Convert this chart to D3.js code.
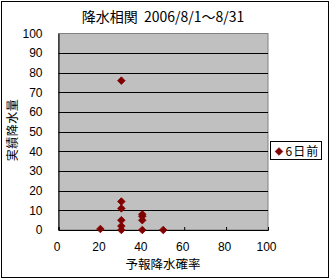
<!DOCTYPE html>
<html>
<head>
<meta charset="utf-8">
<script src="https://cdn.jsdelivr.net/npm/d3@7"></script>
<style>
  body { margin: 0; background: #fff; }
  svg text { font-family: "Liberation Sans", "Noto Sans CJK JP", sans-serif; fill: #000; }
  .jp { font-family: "Noto Sans CJK JP", sans-serif; white-space: pre; }
</style>
</head>
<body>
<svg id="chart" width="330" height="279"></svg>
<script>
// forecast probability (%) vs. actual rainfall (mm)
const forecastPct = [20, 30, 30, 30, 30, 30, 30, 40, 40, 40, 40, 50];
const actualRain  = [0.5, 76, 14.5, 11, 5, 2, 0, 8, 7, 5, 0, 0];
const xTicks = [0, 20, 40, 60, 80, 100];
const yTicks = [0, 10, 20, 30, 40, 50, 60, 70, 80, 90, 100];
const seriesName = "6日前";
const titleText = "降水相関  2006/8/1～8/31";
const xTitle = "予報降水確率";
const yTitle = "実績降水量";

const svg = d3.select("#chart");
const plot = {left: 58.5, right: 268, top: 33.5, bottom: 230};
const markColor = "#800000";

// outer frame
svg.append("rect")
   .attr("x", 1.5).attr("y", 1.5)
   .attr("width", 327).attr("height", 276)
   .attr("fill", "#fff").attr("stroke", "#000");

const x = d3.scaleLinear().domain([0, 100]).range([plot.left, plot.right]);
const y = d3.scaleLinear().domain([0, 100]).range([plot.bottom, plot.top]);

// plot area
svg.append("rect")
   .attr("x", plot.left).attr("y", plot.top)
   .attr("width", plot.right - plot.left).attr("height", plot.bottom - plot.top)
   .attr("fill", "#c0c0c0").attr("stroke", "#808080");

// gridlines
svg.append("g")
   .selectAll("line")
   .data(yTicks.filter(d => d > 0 && d < 100))
   .join("line")
   .attr("x1", plot.left).attr("x2", plot.right)
   .attr("y1", d => Math.round(y(d)) + 0.5).attr("y2", d => Math.round(y(d)) + 0.5)
   .attr("stroke", "#000");

// y axis
const yAxis = svg.append("g")
   .attr("transform", `translate(${plot.left},0)`)
   .call(d3.axisLeft(y).tickValues(yTicks).tickSize(0).tickPadding(16));
yAxis.select(".domain").attr("stroke", "#000");
yAxis.selectAll("text").attr("font-size", 12).attr("font-family", null);

// x axis
const xAxis = svg.append("g")
   .attr("transform", `translate(0,${plot.bottom})`)
   .call(d3.axisBottom(x).tickValues(xTicks).tickSize(-3).tickPadding(12));
xAxis.select(".domain").attr("stroke", "#000");
xAxis.selectAll(".tick line").attr("stroke", "#000");
xAxis.selectAll("text").attr("font-size", 12).attr("font-family", null)
   .attr("dx", -2);

// points
const diamond = "M0,-3.8L3.8,0L0,3.8L-3.8,0Z";
svg.append("g")
   .selectAll("path")
   .data(forecastPct.map((p, i) => ({p: p, r: actualRain[i]})))
   .join("path")
   .attr("d", diamond)
   .attr("transform", d => `translate(${x(d.p)},${y(d.r)})`)
   .attr("fill", markColor)
   .attr("stroke", markColor)
   .attr("stroke-width", 0.8);

// titles
svg.append("text")
   .attr("class", "jp")
   .attr("x", 163).attr("y", 22)
   .attr("text-anchor", "middle")
   .attr("font-size", 14)
   .text(titleText);

svg.append("text")
   .attr("class", "jp")
   .attr("x", 163).attr("y", 269)
   .attr("text-anchor", "middle")
   .attr("font-size", 12.5)
   .text(xTitle);

svg.append("text")
   .attr("class", "jp")
   .attr("transform", "translate(17,130) rotate(-90)")
   .attr("text-anchor", "middle")
   .attr("font-size", 12)
   .attr("letter-spacing", 0.5)
   .text(yTitle);

// legend
const legend = svg.append("g").attr("transform", "translate(270.5,141.5)");
legend.append("rect")
   .attr("width", 51).attr("height", 18)
   .attr("fill", "#fff").attr("stroke", "#000");
legend.append("path")
   .attr("d", diamond)
   .attr("transform", "translate(8.5,10)")
   .attr("fill", markColor).attr("stroke", markColor).attr("stroke-width", 0.8);
legend.append("text")
   .attr("class", "jp")
   .attr("x", 15).attr("y", 14)
   .attr("font-size", 12)
   .attr("letter-spacing", 1)
   .text(seriesName);
</script>
</body>
</html>
